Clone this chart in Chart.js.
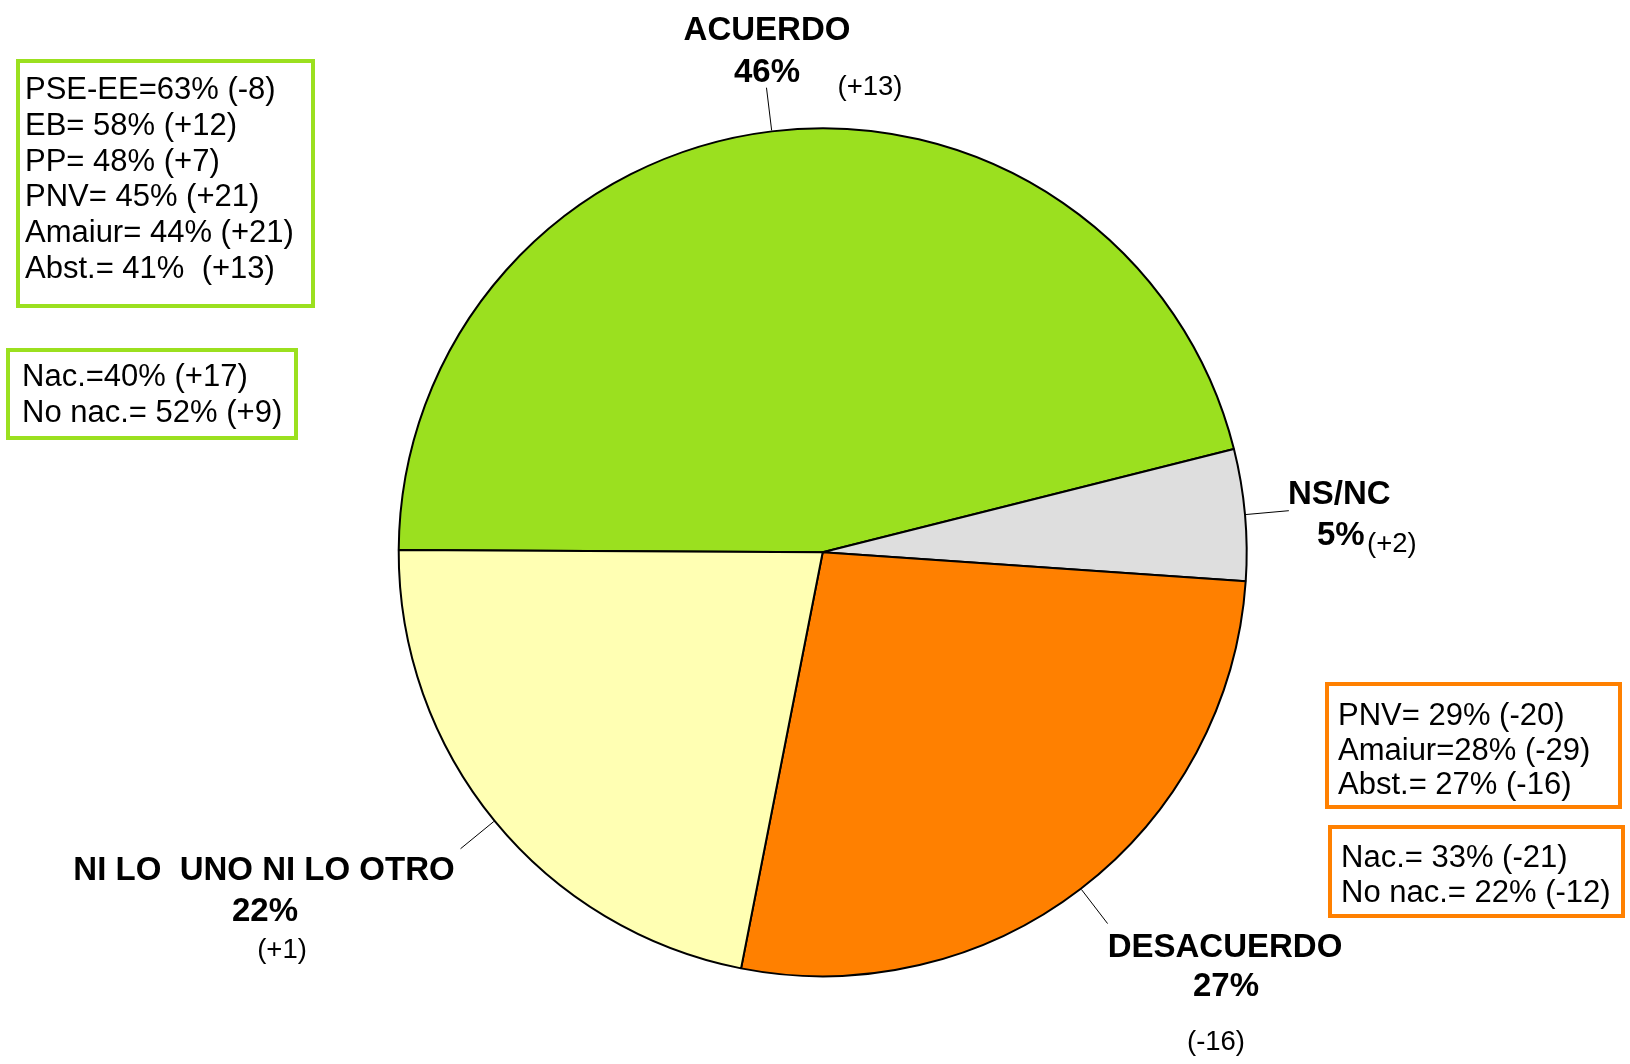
<!DOCTYPE html>
<html>
<head>
<meta charset="utf-8">
<script src="https://cdn.jsdelivr.net/npm/chart.js@4/dist/chart.umd.min.js"></script>
<style>
  html, body { margin: 0; padding: 0; background: #ffffff; }
  #wrap { position: relative; width: 1630px; height: 1064px; }
</style>
</head>
<body>
<div id="wrap"><canvas id="c" width="1630" height="1064"></canvas></div>
<script>
// ---- data ----
const categories = ['ACUERDO', 'NS/NC', 'DESACUERDO', 'NI LO  UNO NI LO OTRO'];
const values = [46, 5, 27, 22];
const changes = ['(+13)', '(+2)', '(-16)', '(+1)'];
const acuerdoPartidos = ['PSE-EE=63% (-8)', 'EB= 58% (+12)', 'PP= 48% (+7)', 'PNV= 45% (+21)', 'Amaiur= 44% (+21)', 'Abst.= 41%  (+13)'];
const acuerdoNac = ['Nac.=40% (+17)', 'No nac.= 52% (+9)'];
const desacuerdoPartidos = ['PNV= 29% (-20)', 'Amaiur=28% (-29)', 'Abst.= 27% (-16)'];
const desacuerdoNac = ['Nac.= 33% (-21)', 'No nac.= 22% (-12)'];

// ---- styles ----
const sliceColors = ['#9be01f', '#dedede', '#ff8000', '#ffffb3'];
const GREEN = '#9be01f', ORANGE = '#ff8000';
const FONT = '"Liberation Sans", Arial, Helvetica, sans-serif';

// label layout (positions)
const labelLayout = [
  { align: 'center', cat: [767, 40], pct: [767, 82], chg: [870, 95], chgAlign: 'center' },
  { align: 'left', cat: [1288, 504], pct: [1317, 545], chg: [1367, 552], chgAlign: 'left' },
  { align: 'center', cat: [1225, 957], pct: [1226, 996], chg: [1216, 1050], chgAlign: 'center' },
  { align: 'center', cat: [264, 880], pct: [265, 921], chg: [282, 958], chgAlign: 'center' }
];

const boxes = [
  { lines: acuerdoPartidos, color: GREEN, rect: [18, 61, 295, 245], x: 25, y0: 99, dy: 35.8 },
  { lines: acuerdoNac, color: GREEN, rect: [8, 350, 288, 88], x: 22, y0: 386, dy: 36 },
  { lines: desacuerdoPartidos, color: ORANGE, rect: [1327, 684, 293, 123], x: 1338, y0: 725, dy: 34.5 },
  { lines: desacuerdoNac, color: ORANGE, rect: [1330, 827, 293, 89], x: 1341, y0: 867, dy: 35 }
];

const annotPlugin = {
  id: 'annot',
  afterDatasetsDraw(chart) {
    const ctx = chart.ctx;
    const meta = chart.getDatasetMeta(0);
    ctx.save();
    // leader lines
    ctx.strokeStyle = '#000';
    ctx.lineWidth = 1;
    meta.data.forEach((arc) => {
      const p = arc.getProps(['x', 'y', 'startAngle', 'endAngle', 'outerRadius'], true);
      const mid = (p.startAngle + p.endAngle) / 2;
      const r0 = p.outerRadius + 1, r1 = p.outerRadius + 44;
      ctx.beginPath();
      ctx.moveTo(p.x + Math.cos(mid) * r0, p.y + Math.sin(mid) * r0);
      ctx.lineTo(p.x + Math.cos(mid) * r1, p.y + Math.sin(mid) * r1);
      ctx.stroke();
    });
    // slice labels
    ctx.fillStyle = '#000';
    ctx.textBaseline = 'alphabetic';
    categories.forEach((cat, i) => {
      const L = labelLayout[i];
      ctx.font = 'bold 33px ' + FONT;
      ctx.textAlign = L.align;
      ctx.fillText(cat, L.cat[0], L.cat[1]);
      ctx.fillText(values[i] + '%', L.pct[0], L.pct[1]);
      ctx.font = '27.5px ' + FONT;
      ctx.textAlign = L.chgAlign;
      ctx.fillText(changes[i], L.chg[0], L.chg[1]);
    });
    // boxes
    boxes.forEach((b) => {
      ctx.strokeStyle = b.color;
      ctx.lineWidth = 4;
      ctx.strokeRect(b.rect[0], b.rect[1], b.rect[2], b.rect[3]);
      ctx.fillStyle = '#000';
      ctx.font = '31px ' + FONT;
      ctx.textAlign = 'left';
      b.lines.forEach((t, k) => ctx.fillText(t, b.x, b.y0 + k * b.dy));
    });
    ctx.restore();
  }
};

new Chart(document.getElementById('c'), {
  type: 'pie',
  data: {
    labels: categories,
    datasets: [{
      data: values,
      backgroundColor: sliceColors,
      borderColor: '#000000',
      borderWidth: 2,
      hoverBorderWidth: 2,
      hoverOffset: 0
    }]
  },
  options: {
    responsive: false,
    animation: false,
    rotation: 270.3,
    events: [],
    layout: { padding: { left: 397.7, right: 382.3, top: 127.3, bottom: 86.7 } },
    plugins: {
      legend: { display: false },
      tooltip: { enabled: false },
      title: { display: false }
    }
  },
  plugins: [annotPlugin]
});
</script>
</body>
</html>
